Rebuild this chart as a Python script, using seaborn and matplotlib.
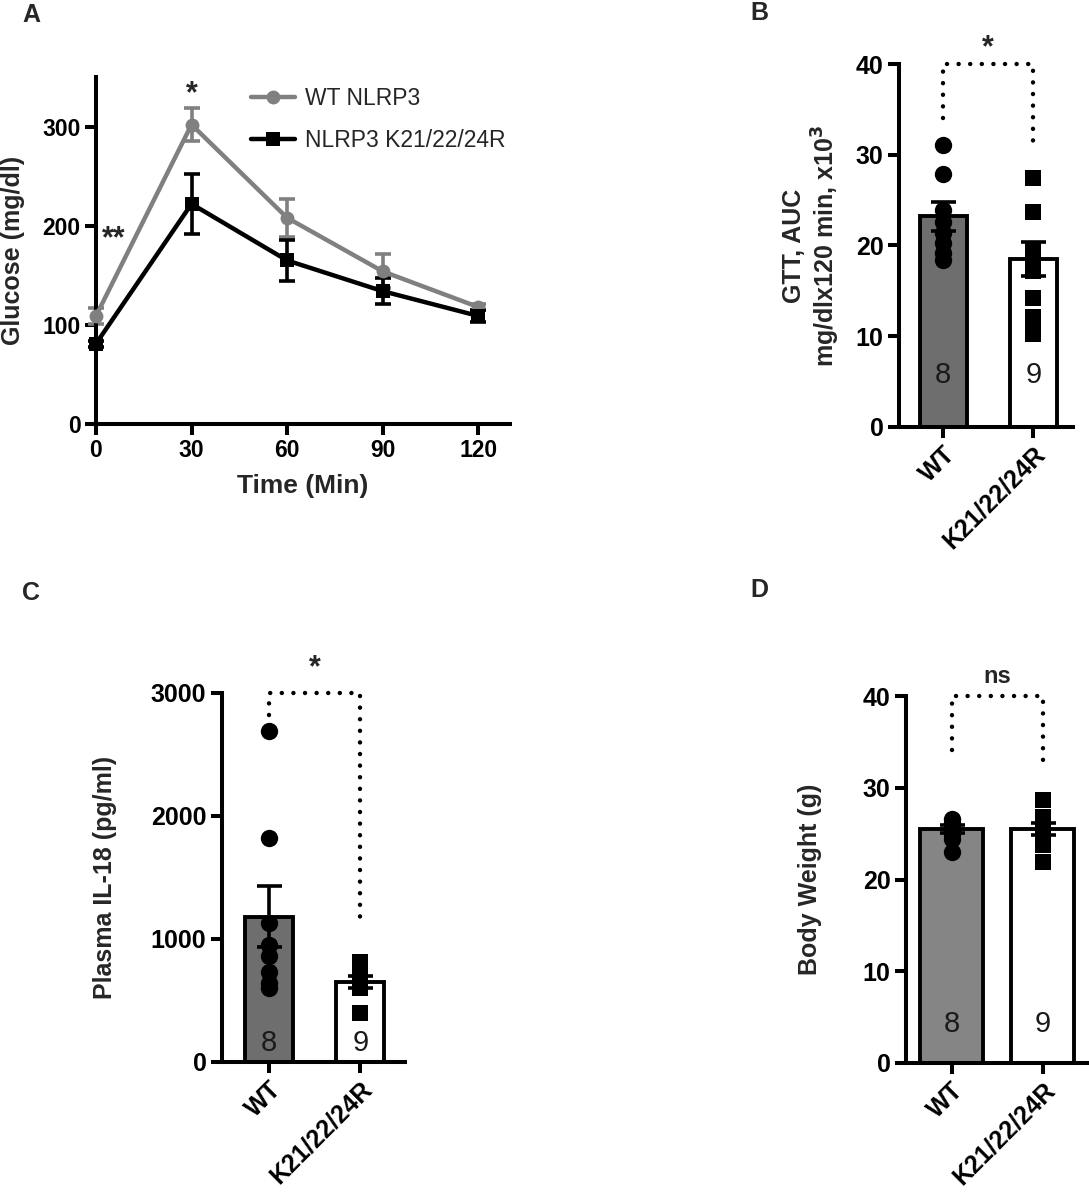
import numpy as np
import pandas as pd
import matplotlib
matplotlib.use('Agg')
import matplotlib.pyplot as plt
import seaborn as sns

# ── data ───────────────────────────────────────────────────────────────────
time_min = [0, 30, 60, 90, 120]
wt_glucose = [109, 302, 208, 154, 118]
wt_glucose_sem = [8, 17, 19, 17, 3]
ki_glucose = [81, 222, 165, 134, 109]
ki_glucose_sem = [3, 30, 21, 13, 6]

groups = ['WT', 'K21/22/24R']
group_n = ['8', '9']

auc_wt = [31.1, 27.9, 23.9, 22.6, 21.4, 20.3, 19.2, 18.4]
auc_ki = [27.4, 23.7, 19.4, 18.3, 17.2, 14.2, 12.1, 11.0, 10.2]
auc_mean = [23.2, 18.5]
auc_sem = [1.6, 1.9]

il18_wt = [2690, 1820, 1130, 950, 860, 730, 640, 600]
il18_ki = [810, 780, 740, 710, 680, 650, 620, 600, 400]
il18_mean = [1180, 651]
il18_sem = [250, 48]

bw_wt = [26.6, 26.2, 25.9, 25.6, 25.3, 25.0, 24.4, 23.0]
bw_ki = [28.7, 26.8, 26.3, 25.9, 25.5, 25.0, 24.5, 23.8, 21.9]
bw_mean = [25.5, 25.5]
bw_sem = [0.4, 0.65]

# ── style ──────────────────────────────────────────────────────────────────
sns.set_theme(style='ticks')
plt.rcParams['font.family'] = ['Liberation Sans', 'DejaVu Sans']
plt.rcParams['font.weight'] = 'bold'
plt.rcParams['axes.labelweight'] = 'bold'
plt.rcParams['axes.linewidth'] = 2.9
plt.rcParams['xtick.major.width'] = 2.9
plt.rcParams['ytick.major.width'] = 2.9
plt.rcParams['xtick.major.size'] = 8
plt.rcParams['ytick.major.size'] = 8
plt.rcParams['xtick.color'] = 'black'
plt.rcParams['ytick.color'] = 'black'
plt.rcParams['axes.edgecolor'] = 'black'

DOTTED = (0, (0.01, 2.6))

fig = plt.figure(figsize=(10.89, 12), dpi=100)


def style_axes(ax, tick_size):
    sns.despine(ax=ax)
    ax.tick_params(labelsize=tick_size, pad=3)
    for lab in ax.get_xticklabels() + ax.get_yticklabels():
        lab.set_fontweight('bold')


def bar_panel(ax, wt_vals, ki_vals, means, sems, fill, width, ylim, yticks,
              ylabel, label_x, bracket_y, bracket_left, bracket_right,
              sig, sig_y, n_y, sig_size=22):
    sns.barplot(x=groups, y=means, hue=groups, palette=[fill, 'white'],
                legend=False, width=width, edgecolor='black', linewidth=2.8,
                errorbar=None, ax=ax, zorder=2)
    sns.stripplot(x=[groups[0]] * len(wt_vals), y=wt_vals, order=groups,
                  jitter=False, marker='o', color='black', size=12.5,
                  linewidth=0, ax=ax, zorder=3)
    sns.stripplot(x=[groups[1]] * len(ki_vals), y=ki_vals, order=groups,
                  jitter=False, marker='s', color='black', size=11,
                  linewidth=0, ax=ax, zorder=3)
    ax.errorbar(x=range(len(groups)), y=means, yerr=sems, fmt='none',
                ecolor='black', elinewidth=2.6, capsize=9, capthick=2.6,
                zorder=4)
    for i, n in enumerate(group_n):
        ax.text(i, n_y, n, ha='center', va='center', fontsize=21,
                fontweight='normal', color='#1a1a1a', zorder=5)
    # significance bracket
    ax.plot([0, 0, 1, 1], [bracket_left, bracket_y, bracket_y, bracket_right],
            ls=DOTTED, lw=3.2, color='black', dash_capstyle='round',
            clip_on=False)
    ax.text(0.5, sig_y, sig, ha='center', va='center', fontsize=sig_size,
            fontweight='bold')
    ax.set_ylim(*ylim)
    ax.set_yticks(yticks)
    ax.set_xlim(-0.5, 1.5)
    ax.set_xlabel('')
    ax.set_ylabel(ylabel, fontsize=18, linespacing=1.15)
    ax.yaxis.set_label_coords(label_x, 0.5)
    style_axes(ax, 18)
    ax.set_xticks(range(len(groups)))
    ax.set_xticklabels(groups, rotation=45, ha='right',
                       rotation_mode='anchor', fontweight='bold',
                       fontsize=18)


# ── A: glucose tolerance test ──────────────────────────────────────────────
axA = fig.add_axes([96 / 1089, 1 - 424 / 1200, 414 / 1089, 347 / 1200])
sns.lineplot(x=time_min, y=wt_glucose, color='#808080', lw=3.2, marker='o',
             markersize=10, markeredgewidth=0, label='WT NLRP3', ax=axA,
             clip_on=False, zorder=3)
sns.lineplot(x=time_min, y=ki_glucose, color='black', lw=3.2, marker='s',
             markersize=9.5, markeredgewidth=0, label='NLRP3 K21/22/24R',
             ax=axA, clip_on=False, zorder=3)
axA.errorbar(time_min, wt_glucose, yerr=wt_glucose_sem, fmt='none',
             ecolor='#808080', elinewidth=2.6, capsize=5.5, capthick=2.6,
             clip_on=False, zorder=2)
axA.errorbar(time_min, ki_glucose, yerr=ki_glucose_sem, fmt='none',
             ecolor='black', elinewidth=2.6, capsize=5.5, capthick=2.6,
             clip_on=False, zorder=2)
axA.set_xlim(0, 130)
axA.set_ylim(0, 350)
axA.set_xticks(time_min)
axA.set_yticks([0, 100, 200, 300])
axA.set_xlabel('Time (Min)', fontsize=19)
axA.set_ylabel('Glucose (mg/dl)', fontsize=18)
axA.xaxis.set_label_coords(0.5, -0.145)
axA.yaxis.set_label_coords(-0.172, 0.5)
axA.text(5.7, 186, '**', ha='center', va='center', fontsize=22)
axA.text(30, 333, '*', ha='center', va='center', fontsize=22)
leg = axA.legend(loc='upper left', bbox_to_anchor=(0.325, 1.03), frameon=False,
                 fontsize=16.5, handlelength=1.9, handletextpad=0.45,
                 labelspacing=0.8)
for t in leg.get_texts():
    t.set_fontweight('normal')
style_axes(axA, 16.5)

# ── B: GTT AUC ─────────────────────────────────────────────────────────────
axB = fig.add_axes([899 / 1089, 1 - 427 / 1200, 174 / 1089, 363 / 1200])
bar_panel(axB, auc_wt, auc_ki, auc_mean, auc_sem, '#6e6e6e', 0.52,
          (0, 40), [0, 10, 20, 30, 40],
          'GTT, AUC\nmg/dlx120 min, x10$^3$', -0.33,
          40, 34.0, 30.6, '*', 41.7, 5.7)
axB.set_xlim(-0.49, 1.44)

# ── C: plasma IL-18 ────────────────────────────────────────────────────────
axC = fig.add_axes([221.7 / 1089, 1 - 1061.7 / 1200, 183.3 / 1089,
                    368.7 / 1200])
bar_panel(axC, il18_wt, il18_ki, il18_mean, il18_sem, '#6e6e6e', 0.53,
          (0, 3000), [0, 1000, 2000, 3000],
          'Plasma IL-18 (pg/ml)', -0.57,
          3000, 2820, 1130, '*', 3200, 150)
axC.set_xlim(-0.52, 1.49)

# ── D: body weight ─────────────────────────────────────────────────────────
axD = fig.add_axes([906 / 1089, 1 - 1063 / 1200, 182 / 1089, 367 / 1200])
bar_panel(axD, bw_wt, bw_ki, bw_mean, bw_sem, '#858585', 0.69,
          (0, 40), [0, 10, 20, 30, 40],
          'Body Weight (g)', -0.46,
          40, 34.1, 32.8, 'ns', 42.1, 4.2, sig_size=17)

# ── panel letters ──────────────────────────────────────────────────────────
for letter, (px, py) in {'A': (31, 15), 'B': (759, 13),
                         'C': (31, 593), 'D': (759, 590)}.items():
    fig.text(px / 1089, 1 - py / 1200, letter, ha='center', va='center',
             fontsize=18, fontweight='bold')

fig.savefig('out.png', dpi=100, facecolor='white')
